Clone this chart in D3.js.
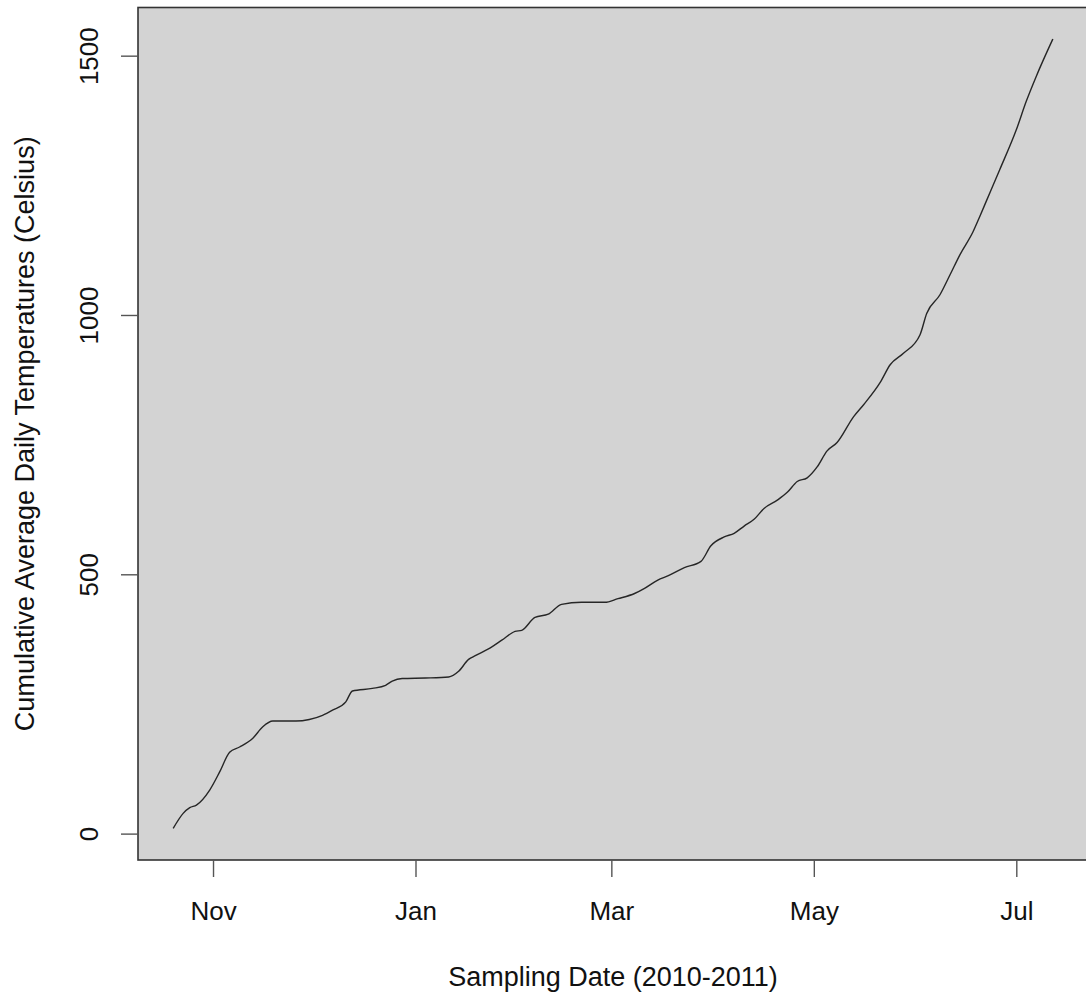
<!DOCTYPE html>
<html>
<head>
<meta charset="utf-8">
<script src="https://cdn.jsdelivr.net/npm/d3@7"></script>
<style>
  html, body { margin: 0; padding: 0; background: #ffffff; }
  svg { display: block; font-family: "Liberation Sans", Arial, Helvetica, sans-serif; }
</style>
</head>
<body>
<svg id="chart" width="1086" height="998"></svg>
<script>
// Sampling dates and cumulative average daily temperature (°C)
const sampleDates = [
  "2010-10-20", "2010-10-23", "2010-10-25", "2010-10-27", "2010-10-31",
  "2010-11-03", "2010-11-06", "2010-11-09", "2010-11-13", "2010-11-16",
  "2010-11-19", "2010-11-26", "2010-11-30", "2010-12-04", "2010-12-07",
  "2010-12-11", "2010-12-13", "2010-12-19", "2010-12-23", "2010-12-25",
  "2010-12-28", "2011-01-04", "2011-01-11", "2011-01-14", "2011-01-17",
  "2011-01-19", "2011-01-24", "2011-01-27", "2011-01-31", "2011-02-02",
  "2011-02-06", "2011-02-10", "2011-02-14", "2011-02-20", "2011-02-27",
  "2011-03-03", "2011-03-08", "2011-03-11", "2011-03-15", "2011-03-18",
  "2011-03-23", "2011-03-28", "2011-03-31", "2011-04-04", "2011-04-07",
  "2011-04-10", "2011-04-13", "2011-04-16", "2011-04-20", "2011-04-23",
  "2011-04-26", "2011-04-29", "2011-05-02", "2011-05-05", "2011-05-08",
  "2011-05-13", "2011-05-16", "2011-05-21", "2011-05-24", "2011-05-28",
  "2011-06-02", "2011-06-04", "2011-06-08", "2011-06-11", "2011-06-14",
  "2011-06-18", "2011-06-20", "2011-06-22", "2011-06-26", "2011-07-01",
  "2011-07-04", "2011-07-07", "2011-07-12"
];
const cumulativeTemps = [
  10, 39, 50, 55, 84,
  119, 157, 167, 184, 206,
  217, 217, 220, 228, 238,
  254, 275, 280, 286, 294,
  299, 300, 302, 313, 336,
  343, 360, 373, 390, 392,
  417, 423, 442, 446, 446,
  453, 463, 473, 489, 497,
  513, 525, 555, 572, 579,
  593, 606, 627, 643, 658,
  679, 686, 707, 738, 754,
  804, 827, 870, 904, 926,
  962, 1003, 1039, 1077, 1116,
  1161, 1190, 1220, 1280, 1357,
  1412, 1460, 1532
];
const monthTicks = ["2010-11-01", "2011-01-01", "2011-03-01", "2011-05-01", "2011-07-01"];
const yTicks = [0, 500, 1000, 1500];
const xTitle = "Sampling Date (2010-2011)";
const yTitle = "Cumulative Average Daily Temperatures (Celsius)";

const parse = d3.utcParse("%Y-%m-%d");
const data = sampleDates.map((d, i) => ({ date: parse(d), value: cumulativeTemps[i] }));

const svg = d3.select("#chart");
const box = { left: 138, right: 1088, top: 7.5, bottom: 860 };

// 4% padding on each side of the data range
function padded(ext) {
  const p = (ext[1] - ext[0]) * 0.04;
  return [ext[0] - p, ext[1] + p];
}
const xExt = d3.extent(data, d => +d.date);
const x = d3.scaleUtc()
  .domain(padded(xExt).map(v => new Date(v)))
  .range([box.left, box.right]);
const y = d3.scaleLinear()
  .domain(padded(d3.extent(data, d => d.value)))
  .range([box.bottom, box.top]);

// plot panel
svg.append("rect")
  .attr("x", box.left).attr("y", box.top)
  .attr("width", box.right - box.left).attr("height", box.bottom - box.top)
  .attr("fill", "#d3d3d3");

// series line
svg.append("path")
  .datum(data)
  .attr("fill", "none")
  .attr("stroke", "#262626")
  .attr("stroke-width", 1.4)
  .attr("stroke-linejoin", "round")
  .attr("d", d3.line().x(d => x(d.date)).y(d => y(d.value)).curve(d3.curveMonotoneX));

// panel border
svg.append("rect")
  .attr("x", box.left).attr("y", box.top)
  .attr("width", box.right - box.left).attr("height", box.bottom - box.top)
  .attr("fill", "none")
  .attr("stroke", "#333333")
  .attr("stroke-width", 1.6);

// x axis
const gx = svg.append("g")
  .attr("transform", `translate(0,${box.bottom})`)
  .call(d3.axisBottom(x)
    .tickValues(monthTicks.map(parse))
    .tickFormat(d3.utcFormat("%b"))
    .tickSize(17));
gx.select(".domain").remove();
gx.selectAll(".tick line").attr("stroke", "#555555").attr("stroke-width", 1.4);
gx.selectAll(".tick text")
  .attr("y", 60).attr("dy", 0)
  .attr("fill", "#111111")
  .style("font-size", "26px")
  .style("font-family", "'Liberation Sans', Arial, sans-serif");

// y axis
const gy = svg.append("g")
  .attr("transform", `translate(${box.left},0)`)
  .call(d3.axisLeft(y).tickValues(yTicks).tickFormat(d3.format("d")).tickSize(17));
gy.select(".domain").remove();
gy.selectAll(".tick line").attr("stroke", "#555555").attr("stroke-width", 1.4);
gy.selectAll(".tick text")
  .attr("x", null).attr("dy", null)
  .attr("text-anchor", "middle")
  .attr("transform", "translate(-40,0) rotate(-90)")
  .attr("fill", "#111111")
  .style("font-size", "26px")
  .style("font-family", "'Liberation Sans', Arial, sans-serif");

// axis titles
svg.append("text")
  .attr("x", (box.left + box.right) / 2)
  .attr("y", 986)
  .attr("text-anchor", "middle")
  .attr("fill", "#111111")
  .style("font-size", "27px")
  .text(xTitle);

svg.append("text")
  .attr("transform", `translate(33.5,${(box.top + box.bottom) / 2}) rotate(-90)`)
  .attr("text-anchor", "middle")
  .attr("fill", "#111111")
  .style("font-size", "27px")
  .text(yTitle);
</script>
</body>
</html>
